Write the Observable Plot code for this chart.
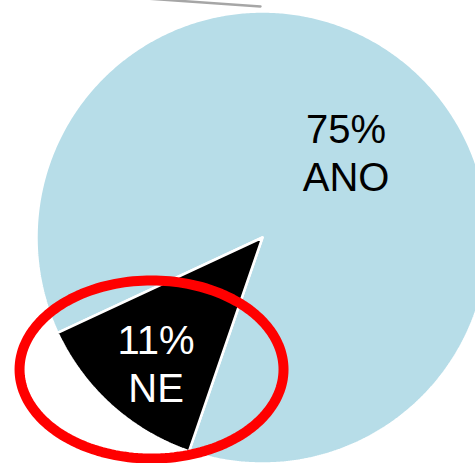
<!DOCTYPE html>
<html>
<head>
<meta charset="utf-8">
<script src="https://cdn.jsdelivr.net/npm/d3@7"></script>
<script src="https://cdn.jsdelivr.net/npm/@observablehq/plot@0.6"></script>
<style>
  html, body { margin: 0; padding: 0; background: #fff; }
  #chart svg { display: block; overflow: hidden; }
</style>
</head>
<body>
<div id="chart"></div>
<script>
// ---- data ----
const categories = ["ANO", "NE"];
const values = [75, 11];
const percentLabels = ["75%", "11%"];
const sliceColors = ["#b7dde8", "#000000"];
const labelColors = ["#000000", "#ffffff"];
const labelRadius = [0.52, 0.73];

// highlight annotation (ellipse around NE) and stray grey line, in pie-radius units
const highlight = [{cx: -0.491, cy: -0.584, rx: 0.584, ry: 0.394}];
const greyLine = [{x: -0.55, y: 1.06}, {x: -0.009, y: 1.022}];

// ---- layout ----
const W = 475, H = 463;
const startDeg = 245.02;
const pie = d3.pie().sort(null)
  .startAngle(startDeg * Math.PI / 180)
  .endAngle(startDeg * Math.PI / 180 + 2 * Math.PI);
const arcs = pie(values);

const slicePoints = [];
arcs.forEach((a, i) => {
  slicePoints.push({key: categories[i], x: 0, y: 0});
  const n = Math.max(2, Math.ceil((a.endAngle - a.startAngle) / (Math.PI / 360)));
  for (let k = 0; k <= n; k++) {
    const t = a.startAngle + (a.endAngle - a.startAngle) * k / n;
    slicePoints.push({key: categories[i], x: Math.sin(t), y: Math.cos(t)});
  }
  slicePoints.push({key: categories[i], x: 0, y: 0});
});

const labels = arcs.map((a, i) => {
  const m = (a.startAngle + a.endAngle) / 2;
  return {
    x: labelRadius[i] * Math.sin(m),
    y: labelRadius[i] * Math.cos(m),
    text: percentLabels[i] + "\n" + categories[i],
    color: labelColors[i]
  };
});

const ellipsePts = [];
highlight.forEach(e => {
  for (let k = 0; k <= 180; k++) {
    const t = 2 * Math.PI * k / 180;
    ellipsePts.push({x: e.cx + e.rx * Math.cos(t), y: e.cy + e.ry * Math.sin(t)});
  }
});

const textStyle = {
  x: "x", y: "y", text: "text", fill: "color",
  fontSize: 40, lineHeight: 1.2,
  fontFamily: "'Liberation Sans', Arial, sans-serif"
};

const plot = Plot.plot({
  width: W,
  height: H,
  margin: 0,
  style: {background: "white", overflow: "hidden"},
  x: {axis: null, domain: [-262 / 226, (W - 262) / 226]},
  y: {axis: null, domain: [-(H - 237) / 226, 237 / 226]},
  marks: [
    Plot.line(greyLine, {x: "x", y: "y", stroke: "#a6a6a6", strokeWidth: 2.5}),
    ...categories.map((c, i) =>
      Plot.line(slicePoints.filter(d => d.key === c), {
        x: "x", y: "y", fill: sliceColors[i], stroke: "white", strokeWidth: 2.5,
        strokeLinejoin: "miter"
      })
    ),
    Plot.text([labels[0]], {...textStyle, dx: 5, dy: 1}),
    Plot.text([labels[1]], {...textStyle, dx: 4, dy: 3}),
    Plot.line(ellipsePts, {x: "x", y: "y", stroke: "#ff0000", strokeWidth: 10, fill: "none"})
  ]
});
document.getElementById("chart").appendChild(plot);
</script>
</body>
</html>
